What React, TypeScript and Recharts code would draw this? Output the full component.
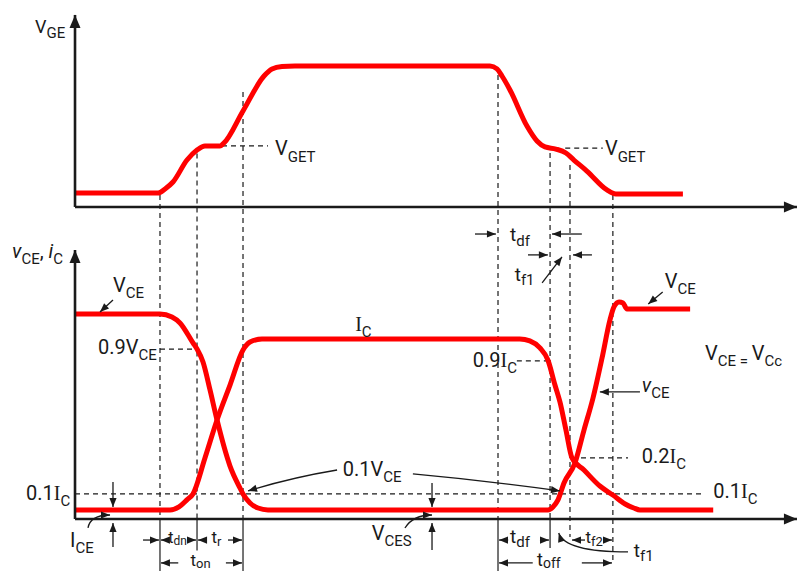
import React from 'react';
import { ComposedChart, Line, XAxis, YAxis, ReferenceLine, ReferenceDot } from 'recharts';

// ---- axis domains (time in arbitrary units, VGE and vCE/iC normalised) ----
const X_MIN = -10.39;
const X_MAX = 100.42;
const G_MIN = -2.582;
const G_MAX = 1.468;
const C_MIN = -0.289;
const C_MAX = 2.883;
// convert a VGE-axis value to the vCE/iC axis (both axes span the same plot height)
const gToC = (v: number) => C_MIN + ((v - G_MIN) * (C_MAX - C_MIN)) / (G_MAX - G_MIN);

// ---- series values ----
const vgeTime = [0, 11.5, 12.47, 13.57, 15.51, 16.9, 18.0, 20.08, 20.64, 23.27, 26.18, 27.29, 28.67, 30.47, 57.48, 58.45, 59.14, 60.25, 62.6, 63.99, 65.1, 66.6, 68.0, 69.1, 70.9, 73.68, 74.9, 84.2];
const vgeValue = [0.099, 0.099, 0.128, 0.177, 0.333, 0.404, 0.433, 0.433, 0.454, 0.681, 0.929, 0.979, 0.996, 1.0, 1.0, 0.979, 0.929, 0.83, 0.574, 0.468, 0.426, 0.411, 0.383, 0.333, 0.255, 0.121, 0.092, 0.092];

const vceTime = [0, 11.77, 13.43, 14.54, 16.34, 16.9, 17.73, 18.7, 19.67, 21.47, 22.85, 23.27, 24.24, 25.35, 26.73, 65.51, 66.2, 66.9, 67.73, 69.25, 70.5, 71.75, 73.0, 74.1, 74.65, 75.35, 75.9, 76.45, 77.4, 85.2];
const vceValue = [1.139, 1.139, 1.122, 1.089, 0.978, 0.944, 0.872, 0.717, 0.55, 0.294, 0.172, 0.139, 0.089, 0.061, 0.05, 0.05, 0.067, 0.106, 0.2, 0.311, 0.494, 0.672, 0.894, 1.106, 1.178, 1.206, 1.2, 1.167, 1.167, 1.167];

const icTime = [0, 13.16, 14.4, 15.5, 16.34, 18.0, 19.67, 21.47, 23.27, 24.24, 25.9, 61.6, 63.0, 64.4, 65.5, 66.48, 67.17, 68.0, 68.84, 70.5, 72.7, 74.5, 76.2, 77.4, 78.25, 88.4];
const icValue = [0.05, 0.05, 0.067, 0.106, 0.139, 0.339, 0.55, 0.744, 0.939, 0.983, 1.0, 1.0, 0.989, 0.95, 0.883, 0.744, 0.65, 0.494, 0.339, 0.272, 0.183, 0.133, 0.083, 0.061, 0.05, 0.05];

const vgeData = vgeTime.map((t, i) => ({ t, v: vgeValue[i] }));
const vceData = vceTime.map((t, i) => ({ t, v: vceValue[i] }));
const icData = icTime.map((t, i) => ({ t, v: icValue[i] }));

// ---- switching instants (time) and where their markers start on the VGE trace ----
const markerTime = [11.77, 16.9, 23.27, 58.59, 65.8, 68.56, 74.5];
const markerStartVge = [0.085, 0.38, 0.816, 0.936, 0.383, 0.298, 0.085];
const markerDashEnd = [0, 0, 0, 0, 0, -0.1, -0.25];
const markerSolidEnd = [-0.289, -0.175, -0.289, -0.289, -0.161, null, null];

// ---- level lines ----
type Seg = { ax: 'g' | 'c'; t1: number; y1: number; t2: number; y2: number };
const levelLines: Seg[] = [
  { ax: 'g', t1: 20.36, y1: 0.433, t2: 26.73, y2: 0.433 }, // VGET
  { ax: 'g', t1: 67.9, y1: 0.418, t2: 73.1, y2: 0.418 }, // VGET
  { ax: 'c', t1: 11.77, y1: 0.944, t2: 16.9, y2: 0.944 }, // 0.9VCE
  { ax: 'c', t1: 61.2, y1: 0.878, t2: 65.5, y2: 0.878 }, // 0.9IC
  { ax: 'c', t1: 68.84, y1: 0.339, t2: 76.6, y2: 0.339 }, // 0.2IC
  { ax: 'c', t1: 0, y1: 0.139, t2: 87, y2: 0.139 }, // 0.1IC
];

// ---- arrows (tail -> tip) ----
type Arrow = Seg & { ctrl?: [number, number]; axis?: boolean };
const arrows: Arrow[] = [
  { ax: 'g', t1: 0, y1: 0, t2: 0, y2: 1.362, axis: true },
  { ax: 'g', t1: 0, y1: 0, t2: 100, y2: 0, axis: true },
  { ax: 'c', t1: 0, y1: 0, t2: 0, y2: 1.494, axis: true },
  { ax: 'c', t1: 0, y1: 0, t2: 100, y2: 0, axis: true },
  { ax: 'c', t1: 5.26, y1: 1.217, t2: 3.46, y2: 1.15 },
  { ax: 'c', t1: 81.4, y1: 1.261, t2: 79.4, y2: 1.194 },
  { ax: 'c', t1: 78.25, y1: 0.706, t2: 72.7, y2: 0.706 },
  { ax: 'c', t1: 1.8, y1: -0.05, t2: 4.85, y2: 0.022, ctrl: [0.1, 1] },
  { ax: 'c', t1: 5.26, y1: 0.206, t2: 5.26, y2: 0.067 },
  { ax: 'c', t1: 5.26, y1: -0.156, t2: 5.26, y2: -0.022 },
  { ax: 'c', t1: 45.7, y1: -0.05, t2: 49.45, y2: 0.022, ctrl: [0.3, 1] },
  { ax: 'c', t1: 49.45, y1: 0.2, t2: 49.45, y2: 0.067 },
  { ax: 'c', t1: 49.45, y1: -0.172, t2: 49.45, y2: -0.022 },
  { ax: 'c', t1: 36.3, y1: 0.272, t2: 23.96, y2: 0.156, ctrl: [0.5, 0.35] },
  { ax: 'c', t1: 46.8, y1: 0.25, t2: 67.17, y2: 0.156, ctrl: [0.5, 0.4] },
  { ax: 'c', t1: 55.4, y1: 1.583, t2: 58.3, y2: 1.583 },
  { ax: 'c', t1: 70.2, y1: 1.583, t2: 66.07, y2: 1.583 },
  { ax: 'c', t1: 62.74, y1: 1.467, t2: 65.5, y2: 1.467 },
  { ax: 'c', t1: 71.6, y1: 1.467, t2: 68.98, y2: 1.467 },
  { ax: 'c', t1: 64.7, y1: 1.311, t2: 67.45, y2: 1.456 },
  { ax: 'c', t1: 9.42, y1: -0.117, t2: 11.63, y2: -0.117 },
  { ax: 'c', t1: 12.74, y1: -0.117, t2: 11.9, y2: -0.117 },
  { ax: 'c', t1: 15.8, y1: -0.117, t2: 16.76, y2: -0.117 },
  { ax: 'c', t1: 18.28, y1: -0.117, t2: 17.04, y2: -0.117 },
  { ax: 'c', t1: 21.19, y1: -0.117, t2: 23.13, y2: -0.117 },
  { ax: 'c', t1: 60.0, y1: -0.117, t2: 58.73, y2: -0.117 },
  { ax: 'c', t1: 64.4, y1: -0.117, t2: 65.65, y2: -0.117 },
  { ax: 'c', t1: 70.64, y1: -0.117, t2: 68.84, y2: -0.117 },
  { ax: 'c', t1: 73.27, y1: -0.117, t2: 74.38, y2: -0.117 },
  { ax: 'c', t1: 76.6, y1: -0.183, t2: 67.0, y2: -0.078, ctrl: [0.91, 0] },
  { ax: 'c', t1: 63.4, y1: -0.244, t2: 58.73, y2: -0.244 },
  { ax: 'c', t1: 70.2, y1: -0.244, t2: 74.38, y2: -0.244 },
  { ax: 'c', t1: 14.3, y1: -0.244, t2: 11.9, y2: -0.244 },
  { ax: 'c', t1: 20.9, y1: -0.244, t2: 23.13, y2: -0.244 },
];

// ---- text labels ----
type Part = { s: string; sub?: boolean; it?: boolean; serif?: boolean };
type Lbl = { ax: 'g' | 'c'; t: number; y: number; parts: Part[]; size: number; sub: number; shift?: number };
const labels: Lbl[] = [
  { ax: 'g', t: -5.54, y: 1.234, size: 18, sub: 15, parts: [{ s: 'V' }, { s: 'GE', sub: true }] },
  { ax: 'g', t: 27.7, y: 0.369, size: 20, sub: 15, shift: 7, parts: [{ s: 'V' }, { s: 'GET', sub: true }] },
  { ax: 'g', t: 73.4, y: 0.369, size: 20, sub: 15, shift: 7, parts: [{ s: 'V' }, { s: 'GET', sub: true }] },
  { ax: 'c', t: -8.73, y: 1.45, size: 20, sub: 15, parts: [{ s: 'v', it: true }, { s: 'CE', sub: true }, { s: ',\u00a0' }, { s: 'i', it: true }, { s: 'C', sub: true }] },
  { ax: 'c', t: 5.26, y: 1.261, size: 20, sub: 15, parts: [{ s: 'V' }, { s: 'CE', sub: true }] },
  { ax: 'c', t: 3.19, y: 0.917, size: 20, sub: 15, parts: [{ s: '0.9V' }, { s: 'CE', sub: true }] },
  { ax: 'c', t: 38.8, y: 1.044, size: 20, sub: 15, parts: [{ s: 'I', serif: true }, { s: 'C', sub: true }] },
  { ax: 'c', t: 55.1, y: 0.844, size: 20, sub: 15, parts: [{ s: '0.9' }, { s: 'I', serif: true }, { s: 'C', sub: true }] },
  { ax: 'c', t: 87.26, y: 0.883, size: 20, sub: 15, parts: [{ s: 'V' }, { s: 'CE', sub: true }, { s: '\u00a0=\u00a0', sub: true }, { s: 'V' }, { s: 'Cc', sub: true }] },
  { ax: 'c', t: 78.5, y: 0.706, size: 20, sub: 15, parts: [{ s: 'v', it: true }, { s: 'CE', sub: true }] },
  { ax: 'c', t: 81.7, y: 1.283, size: 20, sub: 15, parts: [{ s: 'V' }, { s: 'CE', sub: true }] },
  { ax: 'c', t: 78.5, y: 0.311, size: 20, sub: 15, parts: [{ s: '0.2' }, { s: 'I', serif: true }, { s: 'C', sub: true }] },
  { ax: 'c', t: 88.4, y: 0.117, size: 20, sub: 15, parts: [{ s: '0.1' }, { s: 'I', serif: true }, { s: 'C', sub: true }] },
  { ax: 'c', t: -6.79, y: 0.106, size: 20, sub: 15, parts: [{ s: '0.1' }, { s: 'I', serif: true }, { s: 'C', sub: true }] },
  { ax: 'c', t: -0.69, y: -0.156, size: 20, sub: 15, parts: [{ s: 'I' }, { s: 'CE', sub: true }] },
  { ax: 'c', t: 37.1, y: 0.239, size: 20, sub: 15, parts: [{ s: '0.1V' }, { s: 'CE', sub: true }] },
  { ax: 'c', t: 41.1, y: -0.117, size: 20, sub: 15, parts: [{ s: 'V' }, { s: 'CES', sub: true }] },
  { ax: 'c', t: 12.9, y: -0.133, size: 16, sub: 12, shift: 2, parts: [{ s: 't' }, { s: 'dn', sub: true }] },
  { ax: 'c', t: 18.9, y: -0.133, size: 17, sub: 13, shift: 3, parts: [{ s: 't' }, { s: 'r', sub: true }] },
  { ax: 'c', t: 16.0, y: -0.262, size: 17, sub: 13, shift: 2, parts: [{ s: 't' }, { s: 'on', sub: true }] },
  { ax: 'c', t: 60.25, y: -0.133, size: 19, sub: 15, shift: 4, parts: [{ s: 't' }, { s: 'df', sub: true }] },
  { ax: 'c', t: 70.7, y: -0.133, size: 17, sub: 13, shift: 3, parts: [{ s: 't' }, { s: 'f2', sub: true }] },
  { ax: 'c', t: 77.4, y: -0.211, size: 19, sub: 15, shift: 4, parts: [{ s: 't' }, { s: 'f1', sub: true }] },
  { ax: 'c', t: 64.0, y: -0.262, size: 18, sub: 14, shift: 2, parts: [{ s: 't' }, { s: 'off', sub: true }] },
  { ax: 'c', t: 60.25, y: 1.544, size: 19, sub: 15, shift: 5, parts: [{ s: 't' }, { s: 'df', sub: true }] },
  { ax: 'c', t: 60.9, y: 1.322, size: 19, sub: 15, shift: 4, parts: [{ s: 't' }, { s: 'f1', sub: true }] },
];

const INK = '#1a1a1a';
const RED = '#ff0000';
const FONT = 'Roboto, "Noto Sans", sans-serif';

function arrowShape(opts: { ctrl?: [number, number]; axis?: boolean }) {
  return (p: any) => {
    const { x1, y1, x2, y2 } = p;
    let d: string;
    let tx: number;
    let ty: number;
    if (opts.ctrl) {
      const cx = x1 + opts.ctrl[0] * (x2 - x1);
      const cy = y1 + opts.ctrl[1] * (y2 - y1);
      d = `M${x1},${y1} Q${cx},${cy} ${x2},${y2}`;
      tx = x2 - cx;
      ty = y2 - cy;
    } else {
      d = `M${x1},${y1} L${x2},${y2}`;
      tx = x2 - x1;
      ty = y2 - y1;
    }
    const L = Math.hypot(tx, ty) || 1;
    const ux = tx / L;
    const uy = ty / L;
    const h = opts.axis ? 13 : 9;
    const w = opts.axis ? 5.5 : 3.6;
    const bx = x2 - ux * h;
    const by = y2 - uy * h;
    return (
      <g>
        <path d={d} fill="none" stroke={INK} strokeWidth={opts.axis ? 2.6 : 1.3} />
        <polygon
          points={`${x2},${y2} ${bx - uy * w},${by + ux * w} ${bx + uy * w},${by - ux * w}`}
          fill={INK}
        />
      </g>
    );
  };
}

function lineShape(dashed: boolean) {
  return (p: any) => (
    <line
      x1={p.x1}
      y1={p.y1}
      x2={p.x2}
      y2={p.y2}
      stroke={INK}
      strokeWidth={1.2}
      strokeDasharray={dashed ? '5 4' : undefined}
    />
  );
}

function textShape(l: Lbl) {
  return (p: any) => {
    const subDy = l.shift ?? Math.round(l.size * 0.3);
    let shifted = false;
    return (
      <text x={p.cx} y={p.cy} fontFamily={FONT} fontSize={l.size} fill={INK}>
        {l.parts.map((part, i) => {
          const want = !!part.sub;
          const dy = want && !shifted ? subDy : !want && shifted ? -subDy : 0;
          shifted = want;
          return (
            <tspan
              key={i}
              dy={dy}
              fontSize={want ? l.sub : l.size}
              fontStyle={part.it ? 'italic' : 'normal'}
              fontFamily={part.serif ? '"Liberation Serif", "DejaVu Serif", serif' : FONT}
            >
              {part.s}
            </tspan>
          );
        })}
      </text>
    );
  };
}

export default function App() {
  return (
    <div style={{ position: 'absolute', left: 0, top: 0, width: 800, height: 571, background: '#fff' }}>
      <ComposedChart width={800} height={571} margin={{ top: 0, right: 0, bottom: 0, left: 0 }}>
        <XAxis dataKey="t" type="number" domain={[X_MIN, X_MAX]} allowDataOverflow hide />
        <YAxis yAxisId="g" type="number" domain={[G_MIN, G_MAX]} allowDataOverflow hide />
        <YAxis yAxisId="c" type="number" domain={[C_MIN, C_MAX]} allowDataOverflow hide />

        {markerTime.map((t, i) => (
          <ReferenceLine
            key={`md${i}`}
            yAxisId="c"
            ifOverflow="visible"
            segment={[{ x: t, y: gToC(markerStartVge[i]) }, { x: t, y: markerDashEnd[i] }]}
            shape={lineShape(true)}
          />
        ))}
        {markerTime.map((t, i) =>
          markerSolidEnd[i] === null ? null : (
            <ReferenceLine
              key={`ms${i}`}
              yAxisId="c"
              ifOverflow="visible"
              segment={[{ x: t, y: 0 }, { x: t, y: markerSolidEnd[i] as number }]}
              shape={lineShape(false)}
            />
          )
        )}
        {levelLines.map((s, i) => (
          <ReferenceLine
            key={`lv${i}`}
            yAxisId={s.ax}
            ifOverflow="visible"
            segment={[{ x: s.t1, y: s.y1 }, { x: s.t2, y: s.y2 }]}
            shape={lineShape(true)}
          />
        ))}

        <Line data={vgeData} dataKey="v" yAxisId="g" type="monotone" stroke={RED} strokeWidth={5} dot={false} activeDot={false} isAnimationActive={false} />
        <Line data={vceData} dataKey="v" yAxisId="c" type="monotone" stroke={RED} strokeWidth={5} dot={false} activeDot={false} isAnimationActive={false} />
        <Line data={icData} dataKey="v" yAxisId="c" type="monotone" stroke={RED} strokeWidth={5} dot={false} activeDot={false} isAnimationActive={false} />

        {arrows.map((a, i) => (
          <ReferenceLine
            key={`ar${i}`}
            yAxisId={a.ax}
            ifOverflow="visible"
            segment={[{ x: a.t1, y: a.y1 }, { x: a.t2, y: a.y2 }]}
            shape={arrowShape({ ctrl: a.ctrl, axis: a.axis })}
          />
        ))}
        {labels.map((l, i) => (
          <ReferenceDot key={`lb${i}`} yAxisId={l.ax} x={l.t} y={l.y} ifOverflow="visible" shape={textShape(l)} />
        ))}
      </ComposedChart>
    </div>
  );
}
